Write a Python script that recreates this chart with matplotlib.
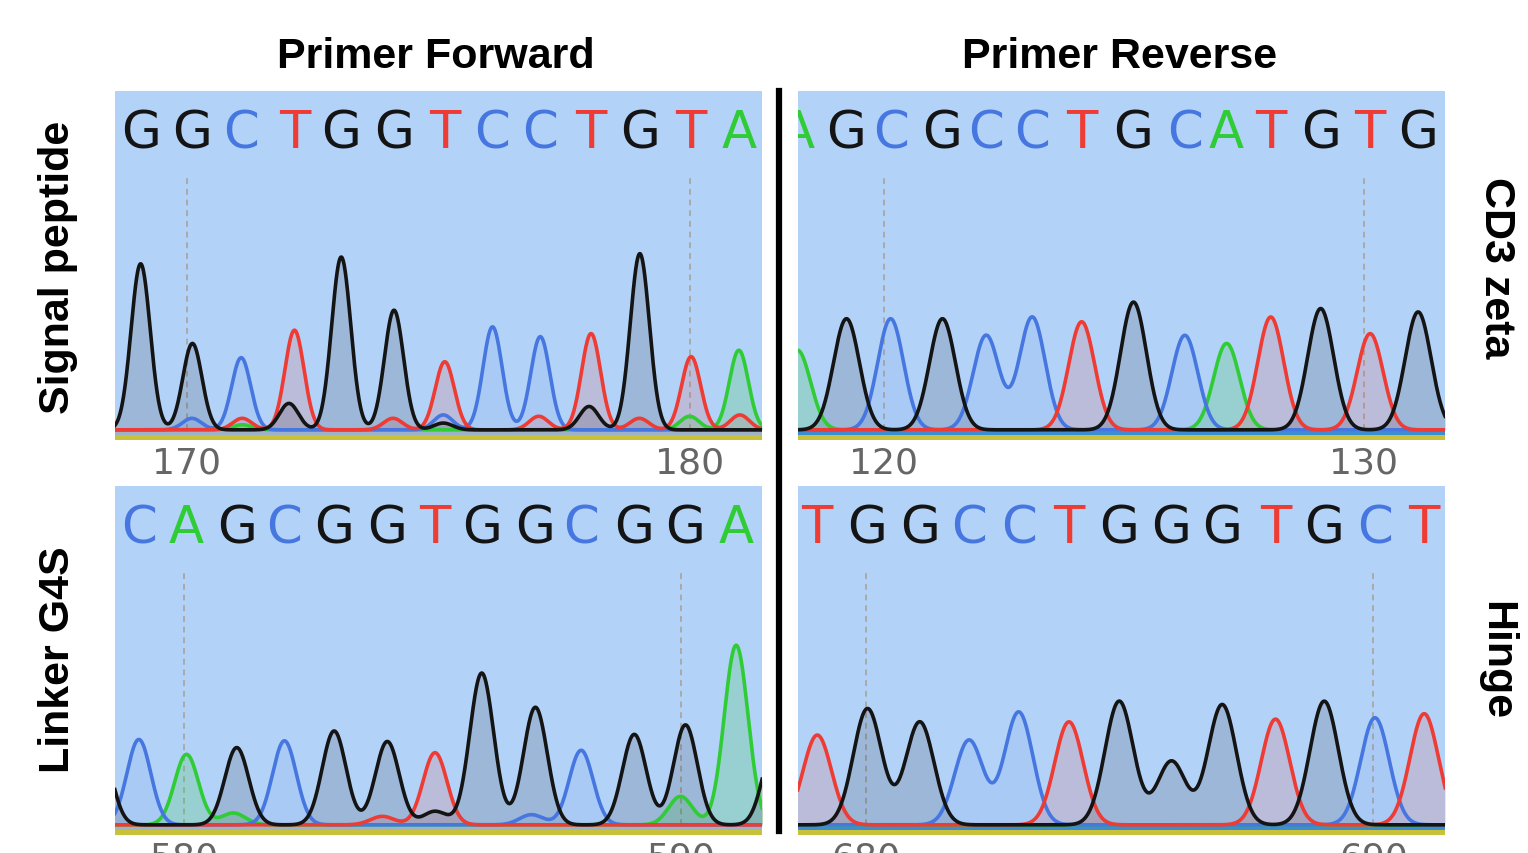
import numpy as np
import matplotlib
matplotlib.use("Agg")
import matplotlib.pyplot as plt
from matplotlib.lines import Line2D

W, H = 1528, 854

# base call colours (G black, C blue, T red, A green)
line_col = {"G": "#141414", "C": "#4676e0", "T": "#ee3b33", "A": "#2fcc35"}
fill_alpha = {"G": 0.14, "C": 0.08, "T": 0.15, "A": 0.20}

# --- Signal peptide, primer forward (bases 170-180)
sp_bases = "GGCTGGTCCTGTA"
sp_pos = [169.08, 170.11, 171.08, 172.14, 173.07, 174.12, 175.13, 176.08, 177.03, 178.04, 179.01, 180.03, 180.98]
sp_height = [49, 25.5, 21.3, 29.4, 51, 35.3, 20.1, 30.4, 27.5, 28.4, 52, 21.6, 23.5]
sp_minor_base = "CTAGTCGTGTAT"
sp_minor_pos = [170.1, 171.1, 171.1, 172.03, 174.1, 175.1, 175.1, 177.0, 178.0, 179.0, 180.0, 181.0]
sp_minor_height = [3.4, 3.4, 1.5, 7.8, 3.4, 4.4, 2.0, 4.0, 6.9, 3.4, 4.0, 4.4]
sp_ticks = [170, 180]

# --- CD3 zeta, primer reverse (bases 120-130)
cd3_bases = "AGCGCCTGCATGTG"
cd3_pos = [118.2, 119.22, 120.14, 121.22, 122.13, 123.09, 124.12, 125.2, 126.27, 127.14, 128.06, 129.1, 130.13, 131.13]
cd3_height = [23.5, 32.8, 32.8, 32.8, 27.9, 33.3, 31.9, 37.7, 27.9, 25.5, 33.3, 35.8, 28.4, 34.8]
cd3_ticks = [120, 130]

# --- Linker G4S, primer forward (bases 580-590)
lk_bases = "CAGCGGTGGCGGA"
lk_pos = [579.10, 580.06, 581.07, 582.03, 583.03, 584.1, 585.06, 586.0, 587.08, 588.0, 589.07, 590.1, 591.12]
lk_height = [25.2, 20.8, 22.8, 24.8, 27.7, 24.6, 21.3, 44.8, 34.7, 22, 26.7, 29.5, 53]
lk_minor_base = "GAACTGG"
lk_minor_pos = [585.06, 590.0, 581.0, 587.0, 584.0, 578.3, 591.9]
lk_minor_height = [4.0, 8.4, 3.5, 3.0, 2.5, 25, 24]
lk_ticks = [580, 590]

# --- Hinge, primer reverse
hg_bases = "TGGCCTGGGTGCT"
hg_pos = [679.04, 680.03, 681.06, 682.03, 683.01, 684.0, 684.99, 686.02, 687.02, 688.07, 689.03, 690.03, 691.0]
hg_height = [26.5, 34.3, 30.4, 25, 33.3, 30.4, 36.5, 18.8, 35.5, 31.2, 36.5, 31.6, 32.8]
hg_ticks = [680, 690]

panels = [
    # bases, pos, heights, minor, ticks, xlim, sigma, rect(px), strip colour
    (sp_bases, sp_pos, sp_height, (sp_minor_base, sp_minor_pos, sp_minor_height), sp_ticks,
     (168.57, 181.44), 0.19, (115, 92, 762, 441), "#9fb2c8"),
    (cd3_bases, cd3_pos, cd3_height, ("", [], []), cd3_ticks,
     (118.21, 131.69), 0.27, (798, 92, 1445, 441), "#3d8dd2"),
    (lk_bases, lk_pos, lk_height, (lk_minor_base, lk_minor_pos, lk_minor_height), lk_ticks,
     (578.62, 591.64), 0.24, (115, 487, 762, 836), "#9fb2c8"),
    (hg_bases, hg_pos, hg_height, ("", [], []), hg_ticks,
     (678.66, 691.41), 0.28, (798, 487, 1445, 836), "#3d8dd2"),
]

fig = plt.figure(figsize=(W / 100, H / 100), dpi=100)
fig.patch.set_facecolor("white")

for bases, pos, heights, minor, ticks, xlim, sigma, rect, strip in panels:
    x0, y0, x1, y1 = rect
    ax = fig.add_axes([x0 / W, 1 - y1 / H, (x1 - x0) / W, (y1 - y0) / H])
    ax.set_facecolor("#b3d2f8")
    ax.set_xlim(*xlim)
    ax.set_ylim(-3, 100)
    ax.set_xticks([])
    ax.set_yticks([])
    for s in ax.spines.values():
        s.set_visible(False)
    ax.axhspan(-3, -1.6, color="#c8c23a", lw=0, zorder=1)
    ax.axhspan(-1.6, -0.4, color=strip, lw=0, zorder=1)

    x = np.linspace(xlim[0] - 0.5, xlim[1] + 0.5, 2000)
    for ch in "ACTG":
        y = np.zeros_like(x)
        for b, p, h in zip(bases, pos, heights):
            if b == ch:
                y += h * np.exp(-(x - p) ** 2 / (2 * sigma ** 2))
        for b, p, h in zip(*minor):
            if b == ch:
                y += h * np.exp(-(x - p) ** 2 / (2 * sigma ** 2))
        ax.fill_between(x, 0, y, color=line_col[ch], alpha=fill_alpha[ch], lw=0, zorder=2)
        ax.plot(x, y, color=line_col[ch], lw=2.6, zorder=3 if ch != "G" else 4,
                solid_joinstyle="round")

    for b, p in zip(bases, pos):
        ax.text(p, 87.5, b, color=line_col[b], fontsize=37, ha="center", va="center",
                family="DejaVu Sans", clip_on=True, zorder=5)

    for t in ticks:
        ax.vlines(t, 0, 74.5, colors="#a9a9a9", lw=1.4, linestyles=(0, (3, 2.5)), zorder=1.5)
        ax.text(t, -23 / (y1 - y0), str(t), transform=ax.get_xaxis_transform(),
                ha="center", va="center", fontsize=26, color="#666666",
                family="DejaVu Sans", clip_on=False)

# black divider between the two primers
fig.add_artist(Line2D([779.5 / W, 779.5 / W], [1 - 92 / H, 1 - 832 / H],
                      lw=4.5, color="black", transform=fig.transFigure))

bold = dict(family="Liberation Sans", fontweight="bold", fontsize=31, color="black")
fig.text(436 / W, 1 - 68 / H, "Primer Forward", ha="center", va="baseline", **bold)
fig.text(1120 / W, 1 - 68 / H, "Primer Reverse", ha="center", va="baseline", **bold)
fig.text(58 / W, 1 - 267 / H, "Signal peptide", rotation=90, ha="center", va="center", **bold)
fig.text(58 / W, 1 - 660 / H, "Linker G4S", rotation=90, ha="center", va="center", **bold)
fig.text(1496 / W, 1 - 268 / H, "CD3 zeta", rotation=270, ha="center", va="center", **bold)
fig.text(1496 / W, 1 - 661 / H, "Hinge", rotation=270, ha="center", va="center", **bold)

plt.savefig("out.png", dpi=100)
